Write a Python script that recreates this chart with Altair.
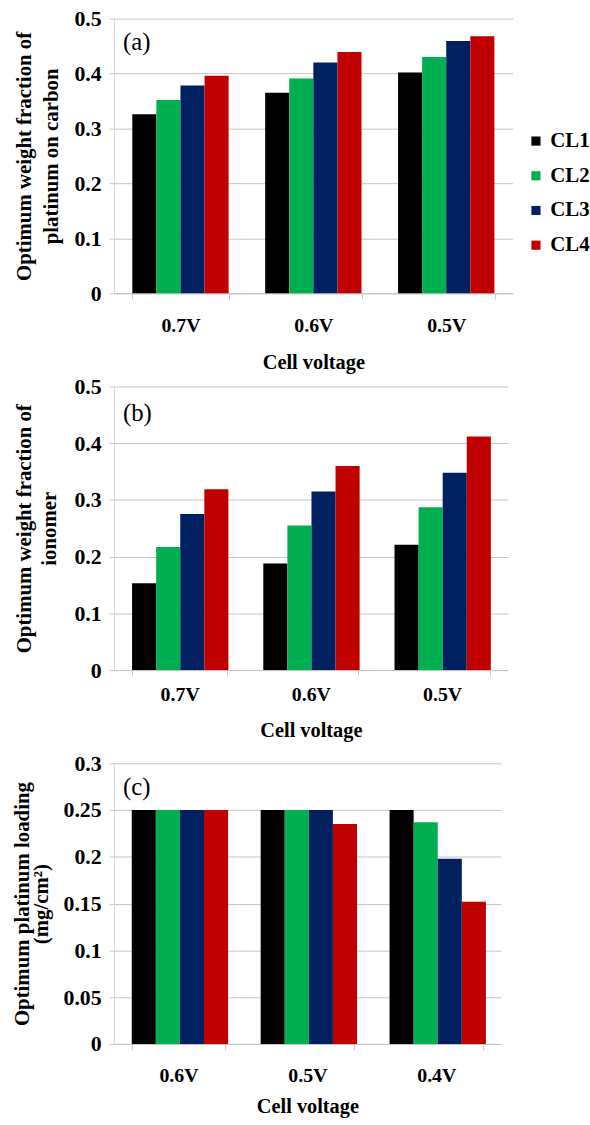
import altair as alt
import pandas as pd

FONT = "Liberation Serif"

layers = ["CL1", "CL2", "CL3", "CL4"]

# (a) optimum weight fraction of platinum on carbon
volts_a = ["0.7V", "0.6V", "0.5V"]
pt_cl1 = [0.326, 0.365, 0.402]
pt_cl2 = [0.352, 0.391, 0.430]
pt_cl3 = [0.378, 0.420, 0.459]
pt_cl4 = [0.396, 0.439, 0.468]

# (b) optimum weight fraction of ionomer
volts_b = ["0.7V", "0.6V", "0.5V"]
io_cl1 = [0.153, 0.188, 0.221]
io_cl2 = [0.217, 0.255, 0.287]
io_cl3 = [0.275, 0.315, 0.348]
io_cl4 = [0.319, 0.360, 0.412]

# (c) optimum platinum loading, mg/cm2
volts_c = ["0.6V", "0.5V", "0.4V"]
ld_cl1 = [0.250, 0.250, 0.250]
ld_cl2 = [0.250, 0.250, 0.237]
ld_cl3 = [0.250, 0.250, 0.198]
ld_cl4 = [0.250, 0.235, 0.152]

ticks_frac = [0, 0.1, 0.2, 0.3, 0.4, 0.5]
ticks_load = [0, 0.05, 0.1, 0.15, 0.2, 0.25, 0.3]

colors_ab = ["#000000", "#00B050", "#002060", "#C00000"]
colors_c = ["#000000", "#00B050", "#1F497D", "#C00000"]

GRID = "#C4C4C4"


def frame(volts, series):
    rows = []
    for name, vals in zip(layers, series):
        for v, val in zip(volts, vals):
            rows.append({"voltage": v, "layer": name, "value": val})
    return pd.DataFrame(rows)


def panel(df, volts, ticks, ymax, ytitle, tag, colors, w, h,
          title_x, title_lh, xlab_pad, xtitle_y, leg_x, leg_y, leg_pad, tag_y):
    bars = alt.Chart(df).mark_bar().encode(
        x=alt.X(
            "voltage:N", sort=volts, title="Cell voltage",
            scale=alt.Scale(paddingInner=0.275, paddingOuter=0.1375),
            axis=alt.Axis(
                labelAngle=0, tickBand="extent", grid=False,
                domainColor=GRID, tickColor=GRID, tickSize=6,
                labelFont=FONT, labelFontWeight="bold", labelFontSize=20,
                labelColor="black", labelPadding=xlab_pad,
                titleFont=FONT, titleFontWeight="bold", titleFontSize=20.5,
                titleColor="black", titleY=xtitle_y, titleBaseline="alphabetic",
            ),
        ),
        xOffset=alt.XOffset("layer:N", sort=layers),
        y=alt.Y(
            "value:Q", title=ytitle,
            scale=alt.Scale(domain=[0, ymax], nice=False, zero=True),
            axis=alt.Axis(
                values=ticks, format="~g", grid=True, gridColor=GRID,
                domainColor="#D9D9D9", tickColor=GRID, tickSize=5,
                labelFont=FONT, labelFontWeight="bold", labelFontSize=22,
                labelColor="black", labelPadding=8,
                titleFont=FONT, titleFontWeight="bold", titleFontSize=21,
                titleColor="black", titleX=title_x, titleY=h / 2,
                titleBaseline="middle", titleLineHeight=title_lh,
            ),
        ),
        color=alt.Color(
            "layer:N", sort=layers, title=None,
            scale=alt.Scale(domain=layers, range=colors),
            legend=alt.Legend(
                orient="none", legendX=leg_x, legendY=leg_y, padding=0,
                symbolType="square", symbolSize=85, symbolStrokeWidth=0,
                symbolOpacity=1, labelFont=FONT, labelFontWeight="bold",
                labelFontSize=21, labelColor="black", labelOffset=4,
                rowPadding=leg_pad,
            ),
        ),
    )
    label = alt.Chart(pd.DataFrame({"t": [tag]})).mark_text(
        font=FONT, fontSize=25, align="left", baseline="middle", color="black"
    ).encode(x=alt.value(9), y=alt.value(tag_y), text="t:N")
    return alt.layer(bars, label).properties(width=w, height=h)


pa = panel(frame(volts_a, [pt_cl1, pt_cl2, pt_cl3, pt_cl4]), volts_a, ticks_frac, 0.5,
           ["Optimum weight fraction of", "platinum on carbon"], "(a)", colors_ab,
           402, 277, -90, 27, 17, 76, 415, 113, 13, 24)
pb = panel(frame(volts_b, [io_cl1, io_cl2, io_cl3, io_cl4]), volts_b, ticks_frac, 0.5,
           ["Optimum weight fraction of", "ionomer"], "(b)", colors_ab,
           397, 286, -90, 25, 9, 67, 413, 113, 14, 27)
pc = panel(frame(volts_c, [ld_cl1, ld_cl2, ld_cl3, ld_cl4]), volts_c, ticks_load, 0.3,
           ["Optimum platinum loading", "(mg/cm²)"], "(c)", colors_c,
           390, 283, -92, 19, 16, 69, 395, 111, 13, 24)

chart = alt.vconcat(pa, pb, pc, spacing=94, bounds="flush").properties(
    padding={"left": 12, "top": 3, "right": 0, "bottom": 0},
    background="white",
).configure_view(stroke=None)

chart.save("out.html", embed_options={"renderer": "svg", "actions": False})
